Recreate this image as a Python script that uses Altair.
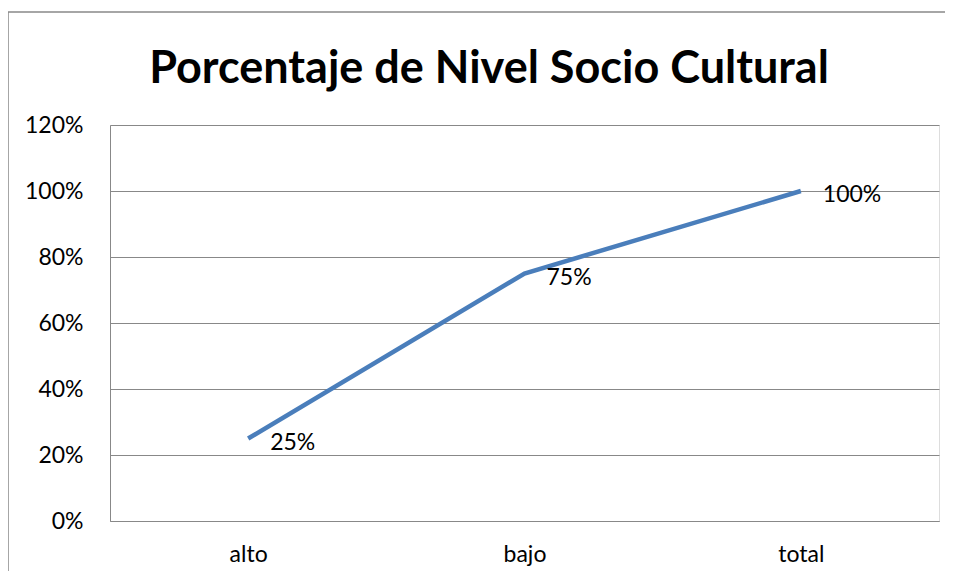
import altair as alt
import pandas as pd

categories = ["alto", "bajo", "total"]
values = [0.25, 0.75, 1.00]
labels = ["25%", "75%", "100%"]
title_text = "Porcentaje de Nivel Socio Cultural"

df = pd.DataFrame({"cat": categories, "val": values, "lab": labels})
tdf = pd.DataFrame({"t": [title_text]})

FONT = "Lato"
FS = 23

x = alt.X("cat:N", sort=categories, title=None,
          scale=alt.Scale(paddingInner=0, paddingOuter=0.5),
          axis=alt.Axis(labelAngle=0, ticks=False, domain=True, domainColor="#888888",
                        labelFontSize=FS, labelFont=FONT, labelColor="#000000",
                        labelPadding=22, grid=False))
y = alt.Y("val:Q", title=None,
          scale=alt.Scale(domain=[0, 1.2], nice=False, zero=True),
          axis=alt.Axis(format=".0%", values=[0, 0.2, 0.4, 0.6, 0.8, 1.0, 1.2],
                        ticks=False, domainColor="#888888", gridColor="#888888",
                        gridWidth=1.2, labelFontSize=FS, labelFont=FONT,
                        labelColor="#000000", labelPadding=27))

line = alt.Chart(df).mark_line(color="#4A7EBB", strokeWidth=4.5).encode(x=x, y=y)
text = alt.Chart(df).mark_text(align="left", baseline="middle", dx=22, dy=4,
                                fontSize=FS, font=FONT, color="#000000").encode(
    x=alt.X("cat:N", sort=categories), y="val:Q", text="lab:N")

title = alt.Chart(tdf).mark_text(align="center", baseline="alphabetic", fontSize=45,
                                  font=FONT, fontWeight="bold", color="#000000",
                                  clip=False).encode(
    x=alt.value(379), y=alt.value(-42), text="t:N")

frame_left = alt.Chart(tdf).mark_rule(color="#888888", strokeWidth=1.5, clip=False).encode(
    x=alt.value(-102), y=alt.value(-113), y2=alt.value(460))
frame_top = alt.Chart(tdf).mark_rule(color="#888888", strokeWidth=1.5, clip=False).encode(
    x=alt.value(-102), x2=alt.value(835), y=alt.value(-113))
cover_right = alt.Chart(tdf).mark_rule(color="#ffffff", strokeWidth=5, clip=False).encode(
    x=alt.value(833), y=alt.value(-111), y2=alt.value(446))

chart = alt.layer(frame_left, frame_top, cover_right, title, line, text).properties(
    width=829, height=396,
    padding={"left": 102, "top": 117, "right": 6, "bottom": 50},
    autosize=alt.AutoSizeParams(type="none"),
).configure_view(stroke=None).configure(background="white")

chart.save("out.html", embed_options={"renderer": "svg", "actions": False})
